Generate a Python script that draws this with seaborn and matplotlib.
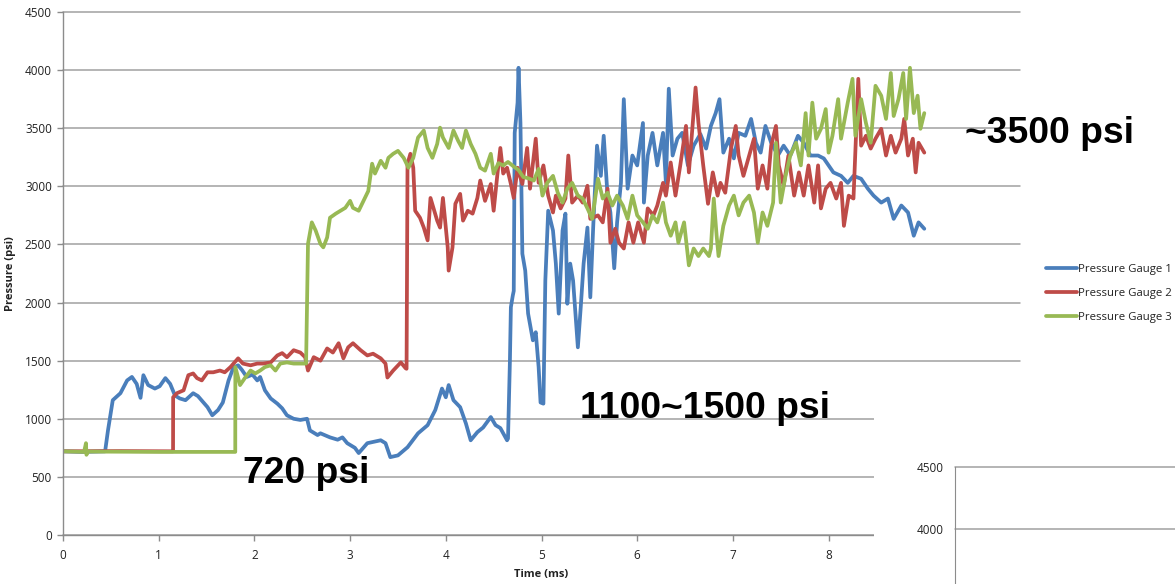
import numpy as np
import pandas as pd
import matplotlib
matplotlib.use("Agg")
import matplotlib.pyplot as plt
from matplotlib.patches import Rectangle
from matplotlib.lines import Line2D
import seaborn as sns

# ---------------- data ----------------
series_names = ["Pressure Gauge 1", "Pressure Gauge 2", "Pressure Gauge 3"]

g1_t = [0.00, 0.20, 0.44, 0.47, 0.52, 0.60, 0.67, 0.72, 0.77, 0.81, 0.84, 0.89, 0.96, 1.01, 1.07,
        1.12, 1.17, 1.22, 1.28, 1.36, 1.41, 1.51, 1.56, 1.62, 1.67, 1.73, 1.78, 1.83, 1.87, 1.92,
        1.98, 2.03, 2.06, 2.11, 2.17, 2.24, 2.29, 2.34, 2.41, 2.48, 2.55, 2.58, 2.66, 2.69, 2.79,
        2.87, 2.92, 2.97, 3.05, 3.09, 3.18, 3.32, 3.37, 3.42, 3.50, 3.60, 3.71, 3.81, 3.89, 3.96,
        4.00, 4.03, 4.08, 4.15, 4.21, 4.26, 4.33, 4.39, 4.47, 4.52, 4.57, 4.64, 4.65, 4.67, 4.68,
        4.70, 4.71, 4.72, 4.75, 4.76, 4.78, 4.80, 4.83, 4.86, 4.91, 4.94, 4.97, 4.99, 5.02, 5.04,
        5.07, 5.12, 5.15, 5.18, 5.22, 5.25, 5.27, 5.30, 5.33, 5.38, 5.41, 5.44, 5.48, 5.51, 5.54,
        5.58, 5.62, 5.65, 5.69, 5.72, 5.76, 5.79, 5.83, 5.86, 5.90, 5.95, 6.00, 6.06, 6.07, 6.11,
        6.16, 6.21, 6.27, 6.30, 6.33, 6.37, 6.42, 6.47, 6.53, 6.59, 6.66, 6.72, 6.77, 6.82, 6.86,
        6.90, 6.96, 7.01, 7.06, 7.13, 7.19, 7.24, 7.29, 7.34, 7.40, 7.47, 7.53, 7.60, 7.68, 7.74,
        7.81, 7.89, 7.95, 8.00, 8.05, 8.13, 8.20, 8.26, 8.34, 8.41, 8.47, 8.55, 8.62, 8.68, 8.76,
        8.83, 8.89, 8.94, 9.00]
g1_v = [720, 715, 720, 900, 1160, 1220, 1330, 1360, 1300, 1180, 1375, 1290, 1260, 1280, 1350,
        1300, 1200, 1175, 1160, 1220, 1195, 1100, 1030, 1075, 1140, 1330, 1440, 1460, 1420, 1360,
        1380, 1330, 1360, 1245, 1175, 1130, 1090, 1030, 1000, 990, 1000, 900, 860, 875, 840,
        820, 840, 790, 750, 705, 790, 815, 790, 670, 685, 755, 875, 945, 1075, 1260,
        1185, 1290, 1160, 1100, 960, 815, 885, 925, 1015, 945, 920, 815, 830, 1500, 1960,
        2060, 2100, 3460, 3720, 4020, 3545, 2420, 2275, 1905, 1675, 1745, 1445, 1140, 1130, 2190,
        2790, 2620, 2335, 1905, 2620, 2765, 1990, 2335, 2190, 1615, 1960, 2335, 2645, 2045, 2645,
        3350, 3090, 3435, 2920, 2775, 2295, 2690, 3030, 3750, 2980, 3265, 3180, 3545, 2860, 3265,
        3460, 3180, 3460, 3030, 3840, 3265, 3410, 3460, 3180, 3350, 3450, 3325, 3520, 3630, 3750,
        3290, 3410, 3240, 3460, 3435, 3580, 3375, 3290, 3520, 3375, 3265, 3350, 3265, 3435, 3375,
        3265, 3265, 3240, 3180, 3120, 3090, 3030, 3090, 3065, 2980, 2920, 2860, 2895, 2720, 2835,
        2775, 2575, 2690, 2635]

g2_t = [0.00, 0.60, 1.15, 1.151, 1.19, 1.26, 1.31, 1.36, 1.40, 1.45, 1.51, 1.57, 1.64, 1.69, 1.75,
        1.83, 1.88, 1.96, 2.03, 2.09, 2.17, 2.24, 2.29, 2.34, 2.41, 2.48, 2.53, 2.56, 2.62, 2.69,
        2.72, 2.76, 2.82, 2.88, 2.93, 2.98, 3.03, 3.11, 3.18, 3.24, 3.32, 3.37, 3.39, 3.45, 3.53,
        3.58, 3.59, 3.60, 3.63, 3.66, 3.68, 3.73, 3.77, 3.81, 3.84, 3.87, 3.91, 3.94, 3.97, 4.02,
        4.03, 4.07, 4.10, 4.15, 4.18, 4.23, 4.28, 4.33, 4.36, 4.41, 4.47, 4.50, 4.54, 4.57, 4.60,
        4.64, 4.68, 4.71, 4.75, 4.80, 4.85, 4.88, 4.94, 4.97, 5.02, 5.07, 5.12, 5.15, 5.20, 5.25,
        5.28, 5.32, 5.38, 5.43, 5.48, 5.51, 5.59, 5.64, 5.69, 5.72, 5.77, 5.81, 5.86, 5.91, 5.96,
        6.01, 6.07, 6.11, 6.17, 6.21, 6.27, 6.30, 6.35, 6.40, 6.45, 6.51, 6.54, 6.61, 6.64, 6.69,
        6.74, 6.79, 6.84, 6.87, 6.92, 6.98, 7.03, 7.06, 7.11, 7.17, 7.22, 7.26, 7.31, 7.36, 7.40,
        7.45, 7.48, 7.53, 7.58, 7.64, 7.69, 7.74, 7.79, 7.85, 7.89, 7.92, 7.97, 8.02, 8.08, 8.13,
        8.16, 8.21, 8.26, 8.31, 8.34, 8.39, 8.44, 8.49, 8.55, 8.60, 8.65, 8.70, 8.76, 8.79, 8.83,
        8.88, 8.91, 8.94, 9.00]
g2_v = [720, 722, 720, 1185, 1220, 1245, 1375, 1390, 1350, 1330, 1400, 1400, 1415, 1400, 1445,
        1520, 1475, 1460, 1475, 1475, 1485, 1545, 1565, 1530, 1590, 1570, 1530, 1415, 1530, 1500,
        1545, 1605, 1570, 1650, 1520, 1615, 1650, 1590, 1545, 1560, 1520, 1475, 1355, 1415, 1485,
        1435, 1430, 3195, 3280, 3160, 2790, 2730, 2645, 2535, 2900, 2815, 2705, 2645, 2900, 2475,
        2275, 2475, 2850, 2935, 2705, 2790, 2765, 2900, 3050, 2875, 3020, 2790, 3110, 3330, 3110,
        3160, 3020, 2900, 3160, 3020, 3330, 2980, 3410, 3030, 3180, 2920, 2775, 2920, 2810, 2895,
        3265, 2860, 2920, 2860, 3005, 2720, 2750, 2690, 2980, 2515, 2635, 2515, 2465, 2690, 2515,
        2690, 2515, 2810, 2750, 2835, 3030, 2920, 3205, 2920, 3180, 3520, 3120, 3850, 3545, 3180,
        2850, 3120, 2920, 3030, 2945, 3325, 3520, 3265, 3090, 3265, 3410, 2980, 3180, 2980, 3350,
        3520, 3180, 3005, 3265, 2920, 3120, 2920, 3180, 2860, 3180, 2810, 2980, 3030, 2895, 3030,
        2660, 2920, 2895, 3925, 3350, 3435, 3325, 3410, 3495, 3265, 3435, 3290, 3410, 3580, 3265,
        3410, 3120, 3375, 3290]

g3_t = [0.00, 0.22, 0.24, 0.245, 0.26, 1.00, 1.80, 1.801, 1.85, 1.90, 1.96, 2.01, 2.06, 2.11, 2.17,
        2.22, 2.27, 2.34, 2.41, 2.48, 2.54, 2.55, 2.56, 2.60, 2.64, 2.69, 2.72, 2.76, 2.79, 2.85,
        2.90, 2.95, 3.00, 3.03, 3.09, 3.14, 3.19, 3.23, 3.26, 3.32, 3.37, 3.40, 3.45, 3.50, 3.56,
        3.61, 3.66, 3.71, 3.77, 3.81, 3.86, 3.91, 3.94, 3.97, 4.03, 4.08, 4.13, 4.17, 4.21, 4.26,
        4.31, 4.36, 4.41, 4.47, 4.50, 4.55, 4.60, 4.65, 4.71, 4.76, 4.81, 4.86, 4.92, 4.97, 5.01,
        5.06, 5.12, 5.17, 5.22, 5.27, 5.32, 5.38, 5.43, 5.48, 5.53, 5.59, 5.64, 5.69, 5.74, 5.79,
        5.85, 5.90, 5.95, 6.00, 6.06, 6.11, 6.16, 6.21, 6.27, 6.30, 6.35, 6.40, 6.43, 6.49, 6.54,
        6.59, 6.64, 6.69, 6.75, 6.77, 6.80, 6.83, 6.85, 6.90, 6.96, 7.01, 7.06, 7.11, 7.17, 7.22,
        7.26, 7.31, 7.36, 7.42, 7.45, 7.50, 7.55, 7.60, 7.66, 7.71, 7.76, 7.79, 7.83, 7.87, 7.92,
        7.97, 8.00, 8.04, 8.10, 8.13, 8.20, 8.25, 8.28, 8.34, 8.39, 8.44, 8.49, 8.55, 8.60, 8.65,
        8.68, 8.73, 8.78, 8.81, 8.85, 8.89, 8.93, 8.96, 9.00]
g3_v = [720, 715, 790, 690, 718, 715, 715, 1445, 1290, 1350, 1415, 1390, 1415, 1445, 1460,
        1415, 1475, 1485, 1475, 1475, 1475, 2020, 2505, 2690, 2620, 2505, 2475, 2560, 2730, 2765,
        2790, 2815, 2875, 2815, 2790, 2875, 2960, 3195, 3110, 3220, 3160, 3245, 3280, 3305, 3245,
        3160, 3245, 3420, 3480, 3330, 3245, 3365, 3505, 3420, 3330, 3480, 3390, 3330, 3480, 3365,
        3280, 3160, 3135, 3280, 3110, 3200, 3180, 3210, 3170, 3140, 3080, 3070, 3050, 3150, 2920,
        3030, 3090, 2945, 2860, 2980, 3030, 2920, 2895, 2810, 2720, 3065, 2895, 2945, 2835, 2920,
        2835, 2720, 2920, 2750, 2690, 2635, 2750, 2690, 2860, 2690, 2575, 2690, 2515, 2690, 2320,
        2465, 2400, 2465, 2400, 2465, 2895, 2575, 2400, 2660, 2835, 2920, 2750, 2860, 2920, 2775,
        2515, 2775, 2660, 2860, 3375, 2860, 3090, 3265, 3375, 3180, 3630, 3265, 3720, 3410, 3495,
        3665, 3290, 3435, 3750, 3410, 3720, 3925, 3435, 3750, 3545, 3375, 3865, 3780, 3580, 3975,
        3605, 3750, 3975, 3580, 4020, 3630, 3780, 3495, 3630]

x_ticks = [0, 1, 2, 3, 4, 5, 6, 7, 8]
y_ticks = [0, 500, 1000, 1500, 2000, 2500, 3000, 3500, 4000, 4500]
inset_y_ticks = [4000, 4500]
annotations = ["720 psi", "1100~1500 psi", "~3500 psi"]
x_label = "Time (ms)"
y_label = "Pressure (psi)"

# ---------------- build table ----------------
frames = []
for name, t, v in zip(series_names, [g1_t, g2_t, g3_t], [g1_v, g2_v, g3_v]):
    frames.append(pd.DataFrame({"Time": t, "Pressure": v, "Series": name}))
df = pd.concat(frames, ignore_index=True)

colors = {"Pressure Gauge 1": "#4A7EBB", "Pressure Gauge 2": "#BE4B48", "Pressure Gauge 3": "#98B954"}

sns.set_style("white")
plt.rcParams["font.family"] = ["Open Sans", "DejaVu Sans"]

W, H = 1175, 584
fig = plt.figure(figsize=(W / 100, H / 100), dpi=100)

def fx(px):
    return px / W

def fy(py):
    return 1 - py / H

L, R, T, B = 63, 1020, 12, 535
ax = fig.add_axes([fx(L), fy(B), fx(R) - fx(L), fy(T) - fy(B)])

sns.lineplot(data=df, x="Time", y="Pressure", hue="Series", palette=colors,
             estimator=None, sort=False, linewidth=2.7, ax=ax, legend=False)

ax.set_xlim(0, 10)
ax.set_ylim(0, 4500)
ax.set_xticks(x_ticks)
ax.set_yticks(y_ticks)
ax.grid(axis="y", color="#a0a0a0", linewidth=1.1)
ax.grid(axis="x", visible=False)
for gl in ax.get_ygridlines():
    gl.set_clip_on(False)
ax.set_axisbelow(True)
for s in ["top", "right"]:
    ax.spines[s].set_visible(False)
for s in ["left", "bottom"]:
    ax.spines[s].set_color("#8c8c8c")
    ax.spines[s].set_linewidth(1.0)
ax.tick_params(axis="y", which="major", direction="out", length=4, width=1, color="#8c8c8c",
               pad=4, labelsize=8.5, labelcolor="#222222", left=True)
ax.tick_params(axis="x", which="major", direction="out", length=4, width=1, color="#8c8c8c",
               pad=6, labelsize=8.5, labelcolor="#222222", bottom=True)

ax.set_xlabel(x_label, fontsize=8, fontweight="bold", color="#222222")
ax.set_ylabel(y_label, fontsize=8, fontweight="bold", color="#222222")
ax.xaxis.set_label_coords(0.5, (B - 574) / (B - T))
ax.xaxis.label.set_va("center")
ax.yaxis.set_label_coords((11 - L) / (R - L), 0.5)
ax.yaxis.label.set_va("center")

# legend
handles = [Line2D([0], [0], color=colors[n], linewidth=2.7) for n in series_names]
leg = ax.legend(handles, series_names, loc="upper left",
                bbox_to_anchor=(fx(1046), fy(264)), bbox_transform=fig.transFigure,
                frameon=False, borderpad=0, borderaxespad=0, handlelength=2.7,
                handletextpad=0.15, labelspacing=1.15, fontsize=8.2)
for t in leg.get_texts():
    t.set_color("#222222")

# white overlay and partial second chart at the bottom right
fig.add_artist(Rectangle((fx(874), 0), 1 - fx(874), fy(392), transform=fig.transFigure,
                         facecolor="white", edgecolor="none", zorder=2))
ax2 = fig.add_axes([fx(955), 0, 1 - fx(955), fy(467)])
ax2.set_zorder(3)
ybot = 4000 - (H - 529) / 62 * 500
ax2.set_ylim(ybot, 4500)
ax2.set_xlim(0, 1)
ax2.set_yticks(inset_y_ticks)
ax2.set_xticks([])
ax2.grid(axis="y", color="#a0a0a0", linewidth=1.1)
for gl in ax2.get_ygridlines():
    gl.set_clip_on(False)
for s in ["top", "right", "bottom"]:
    ax2.spines[s].set_visible(False)
ax2.spines["left"].set_color("#8c8c8c")
ax2.tick_params(axis="y", direction="out", length=4, width=1, color="#8c8c8c", pad=4,
                labelsize=8.5, labelcolor="#222222")

# big annotations
ann_kw = dict(fontsize=26.8, fontweight="bold", family=["Liberation Sans", "DejaVu Sans"],
              color="black", ha="left", va="baseline", zorder=5)
fig.text(fx(243), fy(483), annotations[0], **ann_kw)
fig.text(fx(580), fy(418), annotations[1], **ann_kw)
fig.text(fx(965), fy(143), annotations[2], **ann_kw)

fig.savefig("out.png", dpi=100, facecolor="white")
